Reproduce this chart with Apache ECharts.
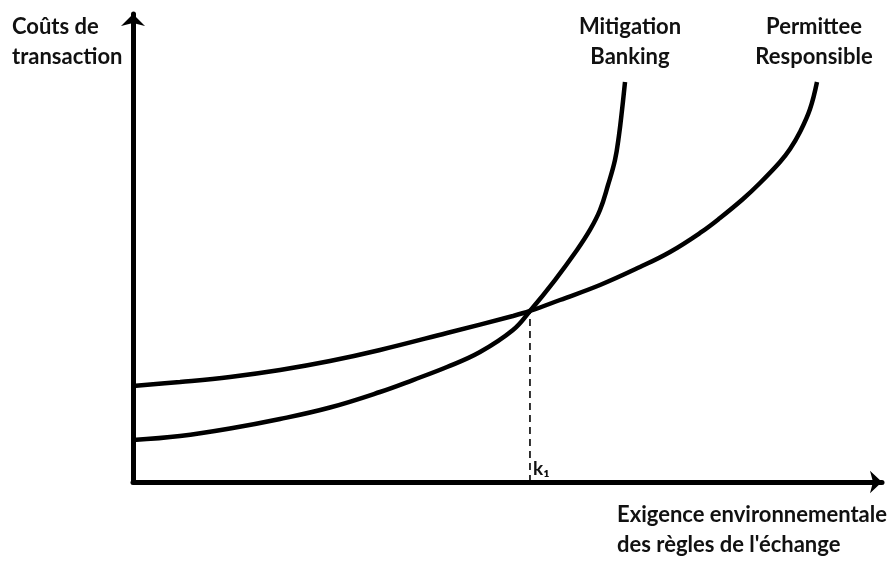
<!DOCTYPE html>
<html>
<head>
<meta charset="utf-8">
<script src="https://cdn.jsdelivr.net/npm/echarts@6/dist/echarts.min.js"></script>
<style>html,body{margin:0;padding:0;background:#fff;}#c{width:890px;height:567px;}</style>
</head>
<body>
<div id="c"></div>
<script>
// Data (x: exigence environnementale, y: coûts de transaction), arbitrary 0-100 units
const mitigationX = [0, 6.28, 12.95, 19.63, 26.30, 32.98, 37.38, 41.92, 46.33, 50.73, 53.00, 56.34, 59.28, 61.01, 62.35, 63.42, 64.35, 64.89, 65.29, 65.69];
const mitigationY = [8.97, 9.83, 11.43, 13.46, 15.92, 19.23, 21.79, 24.57, 27.78, 32.48, 36.54, 43.16, 49.57, 53.85, 58.12, 63.46, 68.80, 74.15, 79.49, 85.47];
const permitteeX = [0, 6.28, 12.95, 19.63, 26.30, 32.98, 41.92, 50.73, 53.00, 57.01, 62.35, 67.69, 71.70, 75.70, 78.37, 81.44, 83.71, 86.38, 87.72, 89.05, 90.39, 91.32];
const permitteeY = [20.51, 21.37, 22.44, 23.93, 25.85, 28.21, 31.84, 35.47, 36.54, 38.89, 42.09, 45.94, 49.15, 53.21, 56.41, 60.47, 63.89, 68.38, 71.15, 74.79, 79.70, 85.47];
const k1X = 53.0;
const k1Y = 36.54;
const yAxisTitle = 'Coûts de\ntransaction';
const xAxisTitle = 'Exigence environnementale\ndes règles de l\'échange';
const mitigationName = 'Mitigation\nBanking';
const permitteeName = 'Permittee\nResponsible';
const k1Label = 'k₁';

const zip = (xs, ys) => xs.map((x, i) => [x, ys[i]]);
const font = 'Lato, "Open Sans", sans-serif';
const txtStyle = { fontFamily: font, fontWeight: 'bold', fontSize: 22, fill: '#111', lineHeight: 30 };

const chart = echarts.init(document.getElementById('c'), null, { renderer: 'canvas' });
chart.setOption({
  animation: false,
  backgroundColor: '#fff',
  grid: { left: 133, right: 8, top: 14, bottom: 85, containLabel: false },
  xAxis: {
    type: 'value', min: 0, max: 100,
    axisLine: { show: true, onZero: false, symbol: ['none', 'arrow'], symbolSize: [17, 12], lineStyle: { color: '#000', width: 5 } },
    axisTick: { show: false }, axisLabel: { show: false }, splitLine: { show: false }
  },
  yAxis: {
    type: 'value', min: 0, max: 100,
    axisLine: { show: true, onZero: false, symbol: ['none', 'arrow'], symbolSize: [18, 12], lineStyle: { color: '#000', width: 5 } },
    axisTick: { show: false }, axisLabel: { show: false }, splitLine: { show: false }
  },
  series: [
    {
      name: 'Mitigation Banking', type: 'line', data: zip(mitigationX, mitigationY),
      smooth: 0.4, showSymbol: false,
      lineStyle: { color: '#000', width: 4.5 }
    },
    {
      name: 'Permittee Responsible', type: 'line', data: zip(permitteeX, permitteeY),
      smooth: 0.4, showSymbol: false,
      lineStyle: { color: '#000', width: 4.5 }
    },
    {
      name: 'k1', type: 'line', data: [[k1X, 0], [k1X, k1Y]],
      showSymbol: false, z: 1,
      lineStyle: { color: '#000', width: 1.6, type: [7, 5] }
    }
  ],
  graphic: [
    { type: 'text', left: 12, top: 12, style: Object.assign({ text: yAxisTitle, textAlign: 'left' }, txtStyle) },
    { type: 'text', x: 630, y: 12, style: Object.assign({ text: mitigationName, textAlign: 'center', textVerticalAlign: 'top' }, txtStyle) },
    { type: 'text', x: 814, y: 12, style: Object.assign({ text: permitteeName, textAlign: 'center', textVerticalAlign: 'top' }, txtStyle) },
    { type: 'text', x: 617, y: 500, style: Object.assign({ text: xAxisTitle, textAlign: 'left', textVerticalAlign: 'top' }, txtStyle) },
    { type: 'text', x: 533, y: 478, style: { text: k1Label, textAlign: 'left', textVerticalAlign: 'bottom', fontFamily: font, fontWeight: 'bold', fontSize: 19, fill: '#111' } }
  ]
});
</script>
</body>
</html>
